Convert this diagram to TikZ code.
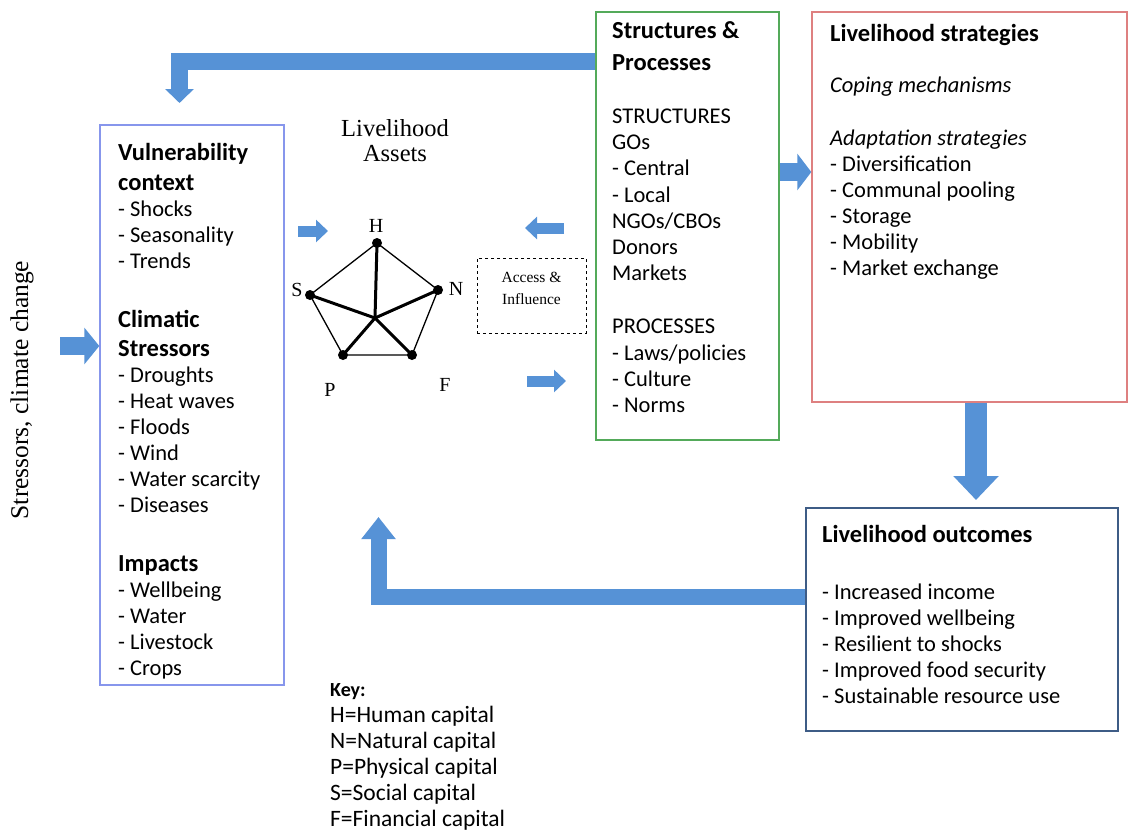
\documentclass[tikz,border=0pt]{standalone}
\usepackage{fontspec}
\setmainfont{Carlito}
\newfontfamily\serifface{Liberation Serif}
\usetikzlibrary{arrows.meta}
\definecolor{flowblue}{RGB}{86,146,214}
\definecolor{vulnline}{RGB}{135,150,236}
\definecolor{structline}{RGB}{84,170,90}
\definecolor{stratline}{RGB}{222,128,128}
\definecolor{outline}{RGB}{62,92,134}
\newcommand{\hd}[1]{{\fontsize{24.5}{26}\selectfont\bfseries #1}}
\tikzset{
  frame/.style={draw, line width=1.4pt, inner sep=0},
  txt/.style={anchor=north west, align=left, inner sep=0},
  flow/.style={draw=flowblue, line join=miter},
  dot/.style={circle, fill, inner sep=0, minimum size=10pt},
  capl/.style={font=\serifface\fontsize{20}{20}\selectfont, inner sep=0},
  rim/.style={line width=1.3pt},
  spoke/.style={line width=3pt}
}
\begin{document}
\begin{tikzpicture}[x=1pt,y=-1pt,font=\fontsize{22.5}{26}\selectfont]
	\useasboundingbox (0,0) rectangle (1129,831);
	% boxes
	\node[frame, draw=vulnline, minimum width=184, minimum height=560] (vuln) at (192,405) {};
	\node[frame, draw=structline, minimum width=183, minimum height=428] (struct) at (687.5,226) {};
	\node[frame, draw=stratline, minimum width=315, minimum height=390] (strat) at (969.5,207) {};
	\node[frame, draw=outline, minimum width=312, minimum height=223] (outc) at (962,619.5) {};
	\node[draw, dashed, line width=0.8pt, minimum width=109, minimum height=75] (access) at (531.5,295.5) {};
	% texts
	\node[txt] (vtxt) at (118,143) {\hd{Vulnerability}\\[4pt] \hd{context}\\ - Shocks\\ - Seasonality\\ - Trends\\[33pt]
		\hd{Climatic}\\[3pt] \hd{Stressors}\\ - Droughts\\ - Heat waves\\ - Floods\\ - Wind\\ - Water scarcity\\ - Diseases\\[33pt]
		\hd{Impacts}\\ - Wellbeing\\ - Water\\ - Livestock\\ - Crops};
	\node[txt] (stxt) at (612,21) {\hd{Structures \&}\\[6pt] \hd{Processes}\\[27pt] STRUCTURES\\ GOs\\ - Central\\[1pt] - Local\\
		NGOs/CBOs\\ Donors\\ Markets\\[27pt] PROCESSES\\[1pt] - Laws/policies\\ - Culture\\ - Norms};
	\node[txt] (gtxt) at (830,24) {\hd{Livelihood strategies}\\[25pt] \textit{Coping mechanisms}\\[27pt] \textit{Adaptation strategies}\\
		- Diversification\\ - Communal pooling\\ - Storage\\ - Mobility\\ - Market exchange};
	\node[txt] (otxt) at (822,525) {\hd{Livelihood outcomes}\\[31pt] - Increased income\\ - Improved wellbeing\\ - Resilient to shocks\\
		- Improved food security\\ - Sustainable resource use};
	\node[txt, font=\fontsize{23.5}{26}\selectfont] (key) at (330,683) {{\fontsize{20}{26}\selectfont\bfseries Key:}\\ H=Human capital\\ N=Natural capital\\ P=Physical capital\\
		S=Social capital\\ F=Financial capital};
	\node[anchor=north, align=center, inner sep=0, font=\serifface\fontsize{24.5}{25}\selectfont] (assets) at (395,119) {Livelihood\\Assets};
	\node[align=center, inner sep=0, font=\serifface\fontsize{15.5}{22}\selectfont] (acctxt) at (531.5,288) {Access \&\\Influence};
	\node[rotate=90, inner sep=0, font=\serifface\fontsize{25.5}{25}\selectfont] (stress) at (22,390) {Stressors, climate change};
	% asset pentagon
	\node[dot] (H) at (377,243) {};
	\node[dot] (N) at (438,290) {};
	\node[dot] (F) at (412,355) {};
	\node[dot] (P) at (343,355) {};
	\node[dot] (S) at (310,295) {};
	\coordinate (hub) at (375,318);
	\draw[rim] (H.center) -- (N.center) -- (F.center) -- (P.center) -- (S.center) -- cycle;
	\foreach \v in {H,N,F,P,S}
		\draw[spoke] (hub) -- (\v.center);
	\node[capl] (lH) at (376,226) {H};
	\node[capl] (lN) at (456,289) {N};
	\node[capl] (lF) at (445,385) {F};
	\node[capl] (lP) at (330,390) {P};
	\node[capl] (lS) at (297,290) {S};
	% flow arrows
	\coordinate (topend) at (179.5,103);
	\coordinate (botend) at (378.5,517);
	\coordinate (downend) at (976,500);
	\draw[flow, line width=17pt, -{Triangle[width=28pt,length=14pt]}] (struct.west |- 0,61.5) -| (topend);
	\draw[flow, line width=16pt, -{Triangle[width=33pt,length=22pt]}] (outc.west |- 0,597) -| (botend);
	\draw[flow, line width=22pt, -{Triangle[width=44pt,length=24pt]}] (strat.south -| downend) -- (downend);
	\draw[flow, line width=18pt, -{Triangle[width=36pt,length=15pt]}] (60,346) -- (vuln.west |- 0,346);
	\draw[flow, line width=18pt, -{Triangle[width=36pt,length=14pt]}] (struct.east |- 0,172) -- (strat.west |- 0,172);
	\draw[flow, line width=11pt, -{Triangle[width=22pt,length=12pt]}] (298,231) -- (328,231);
	\draw[flow, line width=11pt, -{Triangle[width=22pt,length=12pt]}] (564,228) -- (525,228);
	\draw[flow, line width=11pt, -{Triangle[width=22pt,length=12pt]}] (527,381) -- (566,381);
\end{tikzpicture}
\end{document}
